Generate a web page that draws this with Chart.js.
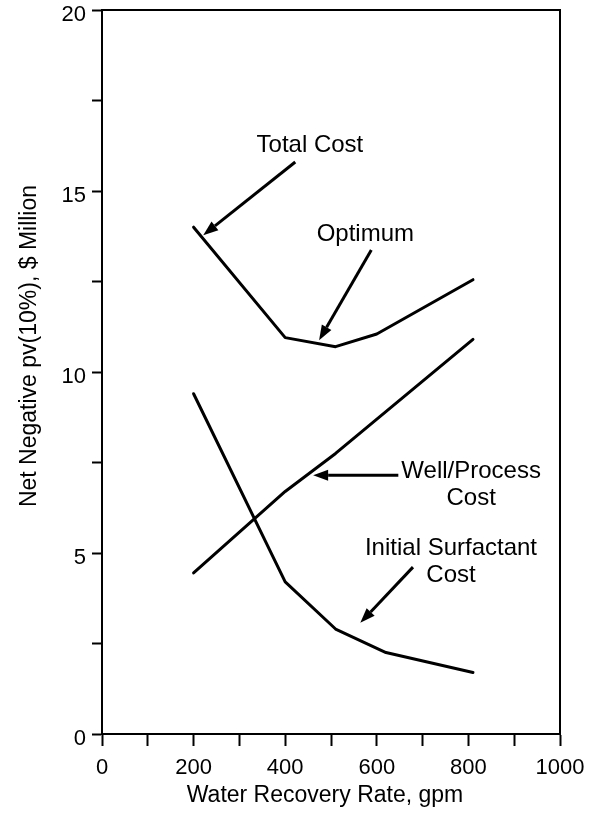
<!DOCTYPE html>
<html>
<head>
<meta charset="utf-8">
<script src="https://cdn.jsdelivr.net/npm/chart.js@4/dist/chart.umd.min.js"></script>
<style>
  html, body { margin: 0; padding: 0; background: #fff; }
  #wrap { width: 590px; height: 819px; }
</style>
</head>
<body>
<div id="wrap"><canvas id="costChart" width="590" height="819"></canvas></div>
<script>
// water recovery rate, gpm
const totalRate = [200, 400, 510, 600, 810];
const totalCost = [14.0, 10.95, 10.7, 11.05, 12.55];

const wellRate = [200, 400, 510, 810];
const wellCost = [4.45, 6.7, 7.75, 10.9];

const surfRate = [200, 400, 510, 620, 810];
const surfCost = [9.4, 4.2, 2.9, 2.25, 1.7];

const xTicks = [0, 200, 400, 600, 800, 1000];
const yTicks = [0, 5, 10, 15, 20];

// callouts in data units: text lines, text anchor, arrow tail -> head
const callouts = [
  { lines: ['Total Cost'], at: [454, 16.25], tail: [422, 15.8], head: [221, 13.78] },
  { lines: ['Optimum'], at: [575, 13.8], tail: [588, 13.37], head: [474, 10.88] },
  { lines: ['Well/Process', 'Cost'], at: [806, 7.25], tail: [647, 7.15], head: [461, 7.15] },
  { lines: ['Initial Surfactant', 'Cost'], at: [762, 5.14], tail: [679, 4.61], head: [564, 3.07] },
];

const FONT = '"Liberation Sans", Arial, sans-serif';

function pairs(xs, ys) {
  return xs.map((x, i) => ({ x: x, y: ys[i] }));
}

function lineSet(label, xs, ys) {
  return {
    label: label,
    data: pairs(xs, ys),
    borderColor: '#000',
    borderWidth: 3,
    borderCapStyle: 'round',
    borderJoinStyle: 'round',
    pointRadius: 0,
    fill: false,
    tension: 0,
  };
}

function drawArrow(ctx, x1, y1, x2, y2) {
  const ang = Math.atan2(y2 - y1, x2 - x1);
  const len = 15, half = 5.5;
  const bx = x2 - len * Math.cos(ang), by = y2 - len * Math.sin(ang);
  ctx.beginPath();
  ctx.moveTo(x1, y1);
  ctx.lineTo(bx, by);
  ctx.lineWidth = 3;
  ctx.stroke();
  ctx.beginPath();
  ctx.moveTo(x2, y2);
  ctx.lineTo(bx + half * Math.sin(ang), by - half * Math.cos(ang));
  ctx.lineTo(bx - half * Math.sin(ang), by + half * Math.cos(ang));
  ctx.closePath();
  ctx.fill();
}

const extras = {
  id: 'extras',
  afterDraw(chart) {
    const { ctx, chartArea: a, scales } = chart;
    const sx = scales.x, sy = scales.y;
    ctx.save();
    ctx.strokeStyle = '#000';
    ctx.fillStyle = '#000';

    // top and right sides of the frame
    ctx.lineWidth = 2;
    ctx.beginPath();
    ctx.moveTo(a.left, a.top);
    ctx.lineTo(a.right, a.top);
    ctx.lineTo(a.right, a.bottom);
    ctx.stroke();

    // callouts
    ctx.font = '24px ' + FONT;
    ctx.textAlign = 'center';
    ctx.textBaseline = 'middle';
    callouts.forEach((c) => {
      const tx = sx.getPixelForValue(c.at[0]);
      const ty = sy.getPixelForValue(c.at[1]);
      c.lines.forEach((t, i) => ctx.fillText(t, tx, ty + i * 27));
      drawArrow(ctx,
        sx.getPixelForValue(c.tail[0]), sy.getPixelForValue(c.tail[1]),
        sx.getPixelForValue(c.head[0]), sy.getPixelForValue(c.head[1]));
    });

    // axis titles
    ctx.font = '23px ' + FONT;
    ctx.fillText('Water Recovery Rate, gpm', 325, 796);
    ctx.translate(30, 346);
    ctx.rotate(-Math.PI / 2);
    ctx.fillText('Net Negative pv(10%), $ Million', 0, 0);
    ctx.restore();
  },
};

function buildChart() {
  const ctx = document.getElementById('costChart');
  new Chart(ctx, {
    type: 'line',
    data: {
      datasets: [
        lineSet('Total Cost', totalRate, totalCost),
        lineSet('Well/Process Cost', wellRate, wellCost),
        lineSet('Initial Surfactant Cost', surfRate, surfCost),
      ],
    },
    options: {
      responsive: false,
      animation: false,
      layout: { padding: { left: 0, right: 30, top: 10, bottom: 0 } },
      plugins: { legend: { display: false }, tooltip: { enabled: false } },
      scales: {
        x: {
          type: 'linear',
          min: 0,
          max: 1000,
          afterFit: (s) => { s.height = 85; s.paddingLeft = 0; s.paddingRight = 0; },
          border: { color: '#000', width: 2 },
          grid: { drawOnChartArea: false, drawTicks: true, tickLength: 12, tickColor: '#000', tickWidth: 2 },
          ticks: {
            stepSize: 100,
            autoSkip: false,
            maxRotation: 0,
            padding: 9,
            color: '#000',
            font: { family: FONT, size: 22 },
            callback: (v) => (xTicks.includes(v) ? v : ''),
          },
        },
        y: {
          min: 0,
          max: 20,
          afterFit: (s) => { s.width = 102; s.paddingTop = 0; s.paddingBottom = 0; },
          border: { color: '#000', width: 2 },
          grid: { drawOnChartArea: false, drawTicks: true, tickLength: 10, tickColor: '#000', tickWidth: 2 },
          ticks: {
            stepSize: 2.5,
            autoSkip: false,
            padding: 6,
            labelOffset: 5,
            color: '#000',
            font: { family: FONT, size: 22 },
            callback: (v) => (yTicks.includes(v) ? v : ''),
          },
        },
      },
    },
    plugins: [extras],
  });
}

document.addEventListener('DOMContentLoaded', buildChart);
</script>
</body>
</html>
